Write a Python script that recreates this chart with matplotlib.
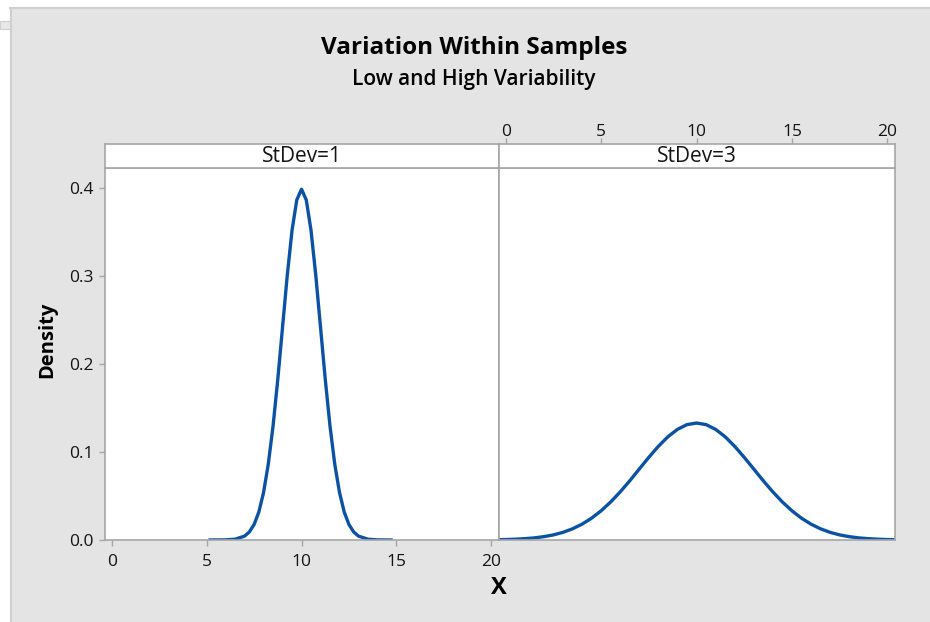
import matplotlib.pyplot as plt
from matplotlib.patches import Rectangle

# density curves
x_sd1 = [5.1, 6.0, 6.5, 7.0, 7.25, 7.5, 7.75, 8.0, 8.25, 8.5, 8.75, 9.0, 9.25, 9.5, 9.75,
         10.0, 10.25, 10.5, 10.75, 11.0, 11.25, 11.5, 11.75, 12.0, 12.25, 12.5, 12.75,
         13.0, 13.5, 14.0, 14.8]
y_sd1 = [0.0, 0.0001, 0.0009, 0.0044, 0.0091, 0.0175, 0.0317, 0.0540, 0.0863, 0.1295,
         0.1827, 0.2420, 0.3011, 0.3521, 0.3867, 0.3989, 0.3867, 0.3521, 0.3011, 0.2420,
         0.1827, 0.1295, 0.0863, 0.0540, 0.0317, 0.0175, 0.0091, 0.0044, 0.0009, 0.0001, 0.0]

x_sd3 = [-0.4, 0.0, 0.5, 1.0, 1.5, 2.0, 2.5, 3.0, 3.5, 4.0, 4.5, 5.0, 5.5, 6.0, 6.5, 7.0,
         7.5, 8.0, 8.5, 9.0, 9.5, 10.0, 10.5, 11.0, 11.5, 12.0, 12.5, 13.0, 13.5, 14.0,
         14.5, 15.0, 15.5, 16.0, 16.5, 17.0, 17.5, 18.0, 18.5, 19.0, 19.5, 20.0, 20.4]
y_sd3 = [0.0003, 0.0005, 0.0009, 0.0015, 0.0024, 0.0038, 0.0058, 0.0087, 0.0127, 0.0180,
         0.0248, 0.0332, 0.0432, 0.0547, 0.0673, 0.0807, 0.0940, 0.1065, 0.1174, 0.1258,
         0.1312, 0.1330, 0.1312, 0.1258, 0.1174, 0.1065, 0.0940, 0.0807, 0.0673, 0.0547,
         0.0432, 0.0332, 0.0248, 0.0180, 0.0127, 0.0087, 0.0058, 0.0038, 0.0024, 0.0015,
         0.0009, 0.0005, 0.0003]

panels = ['StDev=1', 'StDev=3']
x_ticks = [0, 5, 10, 15, 20]
y_ticks = [0.0, 0.1, 0.2, 0.3, 0.4]

plt.rcParams['font.family'] = ['Open Sans', 'DejaVu Sans']

W, H = 930, 622
bg = '#e4e4e4'
edge = '#a6a6a6'
blue = '#0b52a5'
txt = '#141414'

fig = plt.figure(figsize=(W / 100, H / 100), dpi=100, facecolor=bg)

# window frame bits at top-left
fig.patches.append(Rectangle((0, 1 - 7 / H), 1, 7 / H, transform=fig.transFigure,
                             facecolor='white', edgecolor='none', zorder=0))
fig.patches.append(Rectangle((0, 0), 10 / W, 1, transform=fig.transFigure,
                             facecolor='white', edgecolor='none', zorder=0))
fig.patches.append(Rectangle((0, 1 - 29 / H), 10 / W, 8 / H, transform=fig.transFigure,
                             facecolor='#e8e8e8', edgecolor='#d0d0d0', lw=0.8, zorder=0))
fig.add_artist(plt.Line2D([10 / W, 1], [1 - 7.5 / H, 1 - 7.5 / H], color='#cfcfcf', lw=1.5))
fig.add_artist(plt.Line2D([10.5 / W, 10.5 / W], [0, 1 - 7.5 / H], color='#cfcfcf', lw=1.5))


def box(px_left, px_top, px_right, px_bottom):
    return [px_left / W, 1 - px_bottom / H, (px_right - px_left) / W, (px_bottom - px_top) / H]


ax1 = fig.add_axes(box(105, 168, 499, 540))
ax2 = fig.add_axes(box(499, 168, 895, 540))
st1 = fig.add_axes(box(105, 144, 499, 168))
st2 = fig.add_axes(box(499, 144, 895, 168))

for ax, xs, ys in [(ax1, x_sd1, y_sd1), (ax2, x_sd3, y_sd3)]:
    ax.plot(xs, ys, color=blue, lw=2.4, solid_capstyle='butt')
    ax.set_xlim(-0.35, 20.4)
    ax.set_ylim(0, 0.423)
    ax.set_facecolor('white')
    for s in ax.spines.values():
        s.set_color(edge)
        s.set_linewidth(1.2)

for ax, lab in zip([st1, st2], panels):
    ax.set_facecolor('white')
    ax.set_xlim(-0.35, 20.4)
    ax.set_yticks([])
    ax.set_xticks([])
    for s in ax.spines.values():
        s.set_color(edge)
        s.set_linewidth(1.2)
    ax.text(0.5, 0.48, lab, transform=ax.transAxes, ha='center', va='center',
            fontsize=15, color=txt)

tick_kw = dict(length=4, width=1, color=edge, labelcolor=txt, labelsize=12.5)

ax1.set_xticks(x_ticks)
ax1.set_yticks(y_ticks)
ax1.set_yticklabels(['%.1f' % v for v in y_ticks])
ax1.tick_params(axis='x', direction='out', pad=6, **tick_kw)
ax1.tick_params(axis='y', direction='out', pad=4, **tick_kw)
for t in ax1.get_xticklabels() + ax1.get_yticklabels():
    t.set_fontweight('medium')

ax2.set_xticks([])
ax2.set_yticks([])

st2.set_xticks(x_ticks)
st2.xaxis.tick_top()
st2.tick_params(axis='x', direction='out', pad=-1, **tick_kw)
for t in st2.get_xticklabels():
    t.set_fontweight('medium')

fig.text(474 / W, 1 - 48 / H, 'Variation Within Samples', ha='center', va='center',
         fontsize=17.5, fontweight='bold', color='black')
fig.text(474 / W, 1 - 79 / H, 'Low and High Variability', ha='center', va='center',
         fontsize=15, fontweight='semibold', color='black')
fig.text(47 / W, 1 - 340 / H, 'Density', ha='center', va='center', rotation=90,
         fontsize=14.5, fontweight='bold', color='black')
fig.text(499 / W, 1 - 588 / H, 'X', ha='center', va='center',
         fontsize=17, fontweight='bold', color='black')

fig.savefig('out.png', dpi=100, facecolor=bg)
